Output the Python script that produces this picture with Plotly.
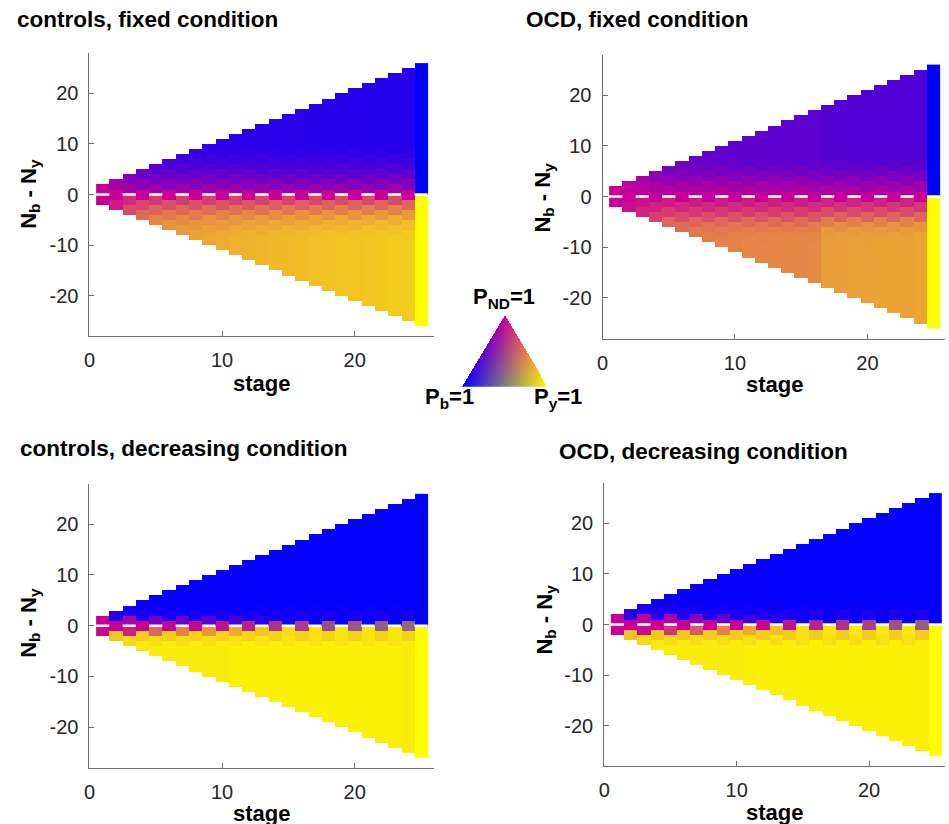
import plotly.graph_objects as go

# ---------------- data ----------------
stages = list(range(1, 26))
x_ticks = [0, 10, 20]
y_ticks = [-20, -10, 0, 10, 20]
y_tick_labels = ["-20", "-10", "0", "10", "20"]

titles = ["controls, fixed condition", "OCD, fixed condition",
          "controls, decreasing condition", "OCD, decreasing condition"]

# P_ND of far cells, per stage (above / below 0)
cf_far_up = [1.0, 0.6, 0.35, 0.27, 0.24, 0.23, 0.22, 0.22, 0.22, 0.21, 0.21, 0.21, 0.2,
             0.2, 0.2, 0.2, 0.19, 0.19, 0.19, 0.19, 0.18, 0.18, 0.18, 0.18, 0.0]
cf_far_dn = [1.0, 0.8, 0.55, 0.45, 0.4, 0.38, 0.37, 0.36, 0.34, 0.33, 0.31, 0.3, 0.29,
             0.28, 0.27, 0.26, 0.25, 0.24, 0.23, 0.23, 0.22, 0.21, 0.2, 0.2, 0.0]
# extra P_ND near the middle, by |Nb-Ny| = 1, 2, 3, ...
cf_exc_up = [0.72, 0.58, 0.46, 0.36, 0.27, 0.19, 0.12, 0.06, 0.02]
cf_exc_dn = [0.63, 0.5, 0.36, 0.24, 0.14, 0.08, 0.04, 0.01]

of_far_up = [1.0, 0.85, 0.7, 0.6, 0.5, 0.52, 0.5, 0.49, 0.48, 0.48, 0.47, 0.47, 0.46,
             0.46, 0.46, 0.45, 0.42, 0.42, 0.41, 0.41, 0.41, 0.4, 0.4, 0.4, 0.0]
of_far_dn = [1.0, 0.85, 0.7, 0.6, 0.5, 0.53, 0.51, 0.5, 0.5, 0.49, 0.48, 0.48, 0.47,
             0.47, 0.47, 0.46, 0.38, 0.38, 0.37, 0.37, 0.36, 0.36, 0.36, 0.35, 0.0]
of_exc_up = [0.78, 0.64, 0.5, 0.34, 0.2, 0.1, 0.04, 0.01]
of_exc_dn = [0.8, 0.67, 0.54, 0.38, 0.2, 0.1, 0.04, 0.01]

cd_far_up = [0.1, 0.08, 0.06, 0.05, 0.04, 0.04, 0.03, 0.03, 0.03, 0.03, 0.03, 0.02, 0.02,
             0.02, 0.02, 0.02, 0.02, 0.02, 0.02, 0.02, 0.02, 0.02, 0.02, 0.02, 0.0]
cd_far_dn = [0.1, 0.12, 0.1, 0.09, 0.08, 0.08, 0.07, 0.07, 0.07, 0.07, 0.06, 0.06, 0.06,
             0.06, 0.06, 0.06, 0.06, 0.06, 0.06, 0.06, 0.06, 0.06, 0.06, 0.07, 0.0]
cd_exc_up = [0.0, 0.1, 0.04]
cd_exc_dn = [0.0, 0.12, 0.05]
cd_mid = [1.0, 1.0, 0.98, 0.95, 0.88, 0.75, 0.62, 0.5, 0.4, 0.32, 0.24, 0.18]   # Nb-Ny=0, stages 2,4,..24
cd_odd_up = [1.0, 0.85, 0.6, 0.55, 0.45, 0.35, 0.2, 0.1, 0.06, 0.05, 0.05, 0.05, 0.0]  # Nb-Ny=+1, stages 1,3,..25
cd_odd_dn = [0.97, 0.88, 0.6, 0.49, 0.41, 0.33, 0.22, 0.14, 0.12, 0.11, 0.1, 0.1, 0.0]  # Nb-Ny=-1

od_far_up = [0.1, 0.1, 0.07, 0.06, 0.05, 0.04, 0.04, 0.03, 0.03, 0.03, 0.03, 0.03, 0.02,
             0.02, 0.02, 0.02, 0.02, 0.02, 0.02, 0.02, 0.02, 0.02, 0.02, 0.02, 0.0]
od_far_dn = [0.1, 0.12, 0.1, 0.09, 0.08, 0.08, 0.07, 0.07, 0.07, 0.07, 0.06, 0.06, 0.06,
             0.06, 0.06, 0.06, 0.06, 0.06, 0.06, 0.06, 0.06, 0.06, 0.06, 0.06, 0.0]
od_exc_up = [0.0, 0.12, 0.05]
od_exc_dn = [0.0, 0.15, 0.06]
od_mid = [1.0, 1.0, 1.0, 1.0, 0.98, 0.93, 0.85, 0.72, 0.6, 0.48, 0.36, 0.28]
od_odd_up = [1.0, 0.95, 0.85, 0.7, 0.5, 0.3, 0.2, 0.08, 0.05, 0.04, 0.04, 0.04, 0.0]
od_odd_dn = [1.0, 0.96, 0.8, 0.65, 0.49, 0.35, 0.24, 0.12, 0.1, 0.09, 0.09, 0.09, 0.0]

COL_B = (0, 0, 255)
COL_Y = (255, 255, 0)
COL_ND = (200, 0, 150)

panels = [
    dict(far_up=cf_far_up, far_dn=cf_far_dn, exc_up=cf_exc_up, exc_dn=cf_exc_dn),
    dict(far_up=of_far_up, far_dn=of_far_dn, exc_up=of_exc_up, exc_dn=of_exc_dn),
    dict(far_up=cd_far_up, far_dn=cd_far_dn, exc_up=cd_exc_up, exc_dn=cd_exc_dn,
         mid=cd_mid, odd_up=cd_odd_up, odd_dn=cd_odd_dn),
    dict(far_up=od_far_up, far_dn=od_far_dn, exc_up=od_exc_up, exc_dn=od_exc_dn,
         mid=od_mid, odd_up=od_odd_up, odd_dn=od_odd_dn),
]


def cell_nd(p, t, v):
    if t == stages[-1]:
        return 0.0
    if v == 0:
        return p["mid"][t // 2 - 1] if p.get("mid") else 1.0
    if abs(v) == 1 and p.get("odd_up"):
        return (p["odd_up"] if v > 0 else p["odd_dn"])[(t - 1) // 2]
    far = (p["far_up"] if v > 0 else p["far_dn"])[t - 1]
    exc = p["exc_up"] if v > 0 else p["exc_dn"]
    e = exc[abs(v) - 1] if abs(v) <= len(exc) else 0.0
    return far + (1 - far) * e


def mix(nd, v):
    if v > 0:
        pb, py = 1 - nd, 0.0
    elif v < 0:
        pb, py = 0.0, 1 - nd
    else:
        pb = py = (1 - nd) / 2
    return tuple(int(round(nd * COL_ND[k] + pb * COL_B[k] + py * COL_Y[k])) for k in range(3))


n_max = stages[-1] + 1
y_rows = [r + 0.5 for r in range(-n_max, n_max)]

W, H = 949, 824
DX = -4  # horizontal correction, pixels
# panel plot areas in pixels: (left, right, top, bottom, xmax)
boxes = [(88, 435, 53, 336, 26), (604.3, 949 - 4, 54.5, 338.5, 25.86),
         (88, 435, 483.7, 767.7, 26), (606, 949 - 4, 483, 766, 25.73)]

fig = go.Figure()
FONT = "Liberation Sans, Arial, sans-serif"
TXT = "#262626"

for k, p in enumerate(panels):
    z = [[None] * len(stages) for _ in y_rows]
    colors = []
    index = {}
    for j, t in enumerate(stages):
        for v in range(-t, t + 1, 2):
            c = mix(cell_nd(p, t, v), v)
            if c not in index:
                index[c] = len(colors)
                colors.append(c)
            for yy in (v - 0.5, v + 0.5):
                z[y_rows.index(yy)][j] = index[c]
    n = len(colors)
    cs = []
    for i, c in enumerate(colors):
        s = "rgb(%d,%d,%d)" % c
        cs.append([i / n, s])
        cs.append([(i + 1) / n, s])
    cs[-1][0] = 1.0
    ax = "" if k == 0 else str(k + 1)
    fig.add_trace(go.Heatmap(x=stages, y=y_rows, z=z, colorscale=cs, zmin=-0.5, zmax=n - 0.5,
                             showscale=False, hoverinfo="skip", xaxis="x" + ax, yaxis="y" + ax))
    # white dashed zero line (between the +1/-1 cells of odd stages)
    lx, ly = [], []
    for t in stages:
        if t % 2 == 1:
            lx += [t - 0.5, t + 0.5, None]
            ly += [0, 0, None]
    fig.add_trace(go.Scatter(x=lx, y=ly, mode="lines", line=dict(color="white", width=2.5),
                             hoverinfo="skip", showlegend=False, xaxis="x" + ax, yaxis="y" + ax))
    l, r, tp, bt, xmax = boxes[k]
    if k in (0, 2):
        l, r = l + DX, r + DX
    else:
        l = l + DX
    axis_common = dict(showline=True, linecolor="#6e6e6e", linewidth=1, ticks="inside", ticklen=5,
                       tickcolor="#6e6e6e", showgrid=False, zeroline=False,
                       tickfont=dict(family=FONT, size=20, color=TXT), ticklabelstandoff=6)
    fig.update_layout(**{
        "xaxis" + ax: dict(domain=[l / W, r / W], range=[0, xmax], tickvals=x_ticks,
                           ticktext=[str(v) for v in x_ticks], anchor="y" + ax, **axis_common),
        "yaxis" + ax: dict(domain=[1 - bt / H, 1 - tp / H], range=[-28, 28], tickvals=y_ticks,
                           ticktext=y_tick_labels, anchor="x" + ax, **axis_common),
    })

# ---------------- triangle colour key ----------------
tw, th = 86, 72
tri = []
for j in range(th):
    row = []
    for i in range(tw):
        px, py = i + 0.5, j + 0.5
        # barycentric coords w.r.t. top (ND), bottom-left (blue), bottom-right (yellow)
        wt = 1 - py / th
        rest = 1 - wt
        half = tw / 2 * rest
        xl = tw / 2 - half
        if rest <= 0 or px < xl or px > tw / 2 + half:
            row.append([255, 255, 255, 0])
            continue
        wr = rest * (px - xl) / (2 * half)
        wl = rest - wr
        c = [wt * COL_ND[q] + wl * COL_B[q] + wr * COL_Y[q] for q in range(3)]
        row.append([c[0], c[1], c[2], 1])
    tri.append(row)
tl, ttop = 462.5 + DX, 315
fig.add_trace(go.Image(z=tri, colormodel="rgba", xaxis="x5", yaxis="y5", hoverinfo="skip"))
fig.update_layout(
    xaxis5=dict(domain=[tl / W, (tl + tw) / W], range=[-0.5, tw - 0.5], visible=False, anchor="y5"),
    yaxis5=dict(domain=[1 - (ttop + th) / H, 1 - ttop / H], range=[th - 0.5, -0.5], visible=False,
                anchor="x5"),
)

ann = []


def add_text(text, x, y, size, xanchor="center", angle=0):
    ann.append(dict(text=text, x=(x + DX) / W, y=1 - y / H, xref="paper", yref="paper",
                    showarrow=False, xanchor=xanchor, yanchor="middle", textangle=angle,
                    borderpad=0, font=dict(family=FONT, size=size, color="black")))


title_pos = [(14, 19), (526, 19), (17, 448), (560, 451)]
for k in range(4):
    add_text("<b>%s</b>" % titles[k], title_pos[k][0], title_pos[k][1], 22.5, xanchor="left")
stage_pos = [(261, 383), (777, 385), (261, 813), (777, 812)]
ylab_pos = [(28, 194), (545, 198), (28, 623), (547, 620)]
for k in range(4):
    add_text("<b>stage</b>", stage_pos[k][0], stage_pos[k][1], 22)
    add_text("<b>N<sub>b</sub> - N<sub>y</sub></b>", ylab_pos[k][0], ylab_pos[k][1], 22, angle=-90)
add_text("<b>P<sub>ND</sub>=1</b>", 505, 298, 22)
add_text("<b>P<sub>b</sub>=1</b>", 450, 398, 22)
add_text("<b>P<sub>y</sub>=1</b>", 560, 398, 22)

fig.update_layout(width=W, height=H, margin=dict(l=0, r=0, t=0, b=0), plot_bgcolor="white",
                  paper_bgcolor="white", showlegend=False, annotations=ann)
fig.write_html("out.html", config={"displayModeBar": False},
               post_script="document.body.style.margin='0px';document.body.style.overflow='hidden';")
